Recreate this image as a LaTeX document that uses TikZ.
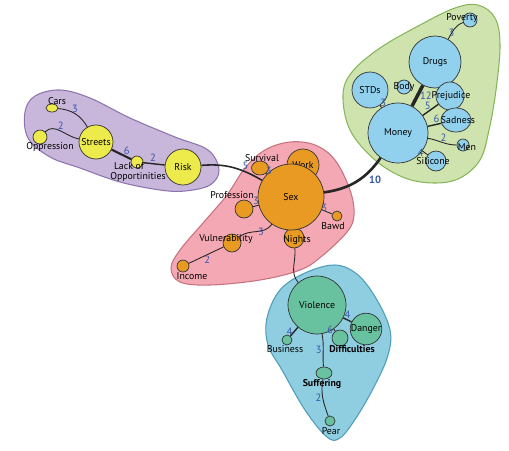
\documentclass[tikz,border=0pt]{standalone}
\usepackage{fontspec}
\setmainfont{PT Sans}
\usepackage{xcolor}
\usetikzlibrary{shapes.geometric}

\definecolor{lilac}{HTML}{C8B6DB}
\definecolor{lilacline}{HTML}{8D74AE}
\definecolor{rose}{HTML}{F4A8B4}
\definecolor{roseline}{HTML}{C7727F}
\definecolor{sage}{HTML}{CEE3AE}
\definecolor{sageline}{HTML}{86B65A}
\definecolor{pool}{HTML}{8FCDE0}
\definecolor{poolline}{HTML}{4F9DB9}
\definecolor{lemon}{HTML}{EDEA4C}
\definecolor{amber}{HTML}{E99A22}
\definecolor{sky}{HTML}{92D1EE}
\definecolor{mint}{HTML}{68C2A0}
\definecolor{numblue}{HTML}{3656A6}

\begin{document}
\begin{tikzpicture}[x=0.02cm,y=0.02cm]
  \tikzset{vtx/.style={circle, draw=black!80, line width=0.4pt, inner sep=0pt, font=\fontsize{5.6}{6.5}\selectfont}}
  \tikzset{rad/.style={minimum size=#1*0.04cm}}
  \tikzset{oval/.style 2 args={ellipse, minimum width=#1*0.02cm, minimum height=#2*0.02cm}}
  \tikzset{lbl/.style={inner sep=0pt, font=\fontsize{5.6}{6.5}\selectfont}}
  \tikzset{num/.style={inner sep=0.6pt, text=numblue, font=\fontsize{6}{7}\selectfont}}
  \tikzset{link/.style={draw=black!85, line width=0.5pt}}
  \tikzset{region/.style={line width=0.6pt}}

  \useasboundingbox (0,0) rectangle (509,-450);

  % regions
  \filldraw[region, fill=lilac, draw=lilacline] plot[smooth cycle, tension=0.6] coordinates {
    (25,-112) (35,-96) (60,-90) (90,-98) (130,-118) (175,-137) (208,-150) (219,-170)
    (210,-185) (185,-191) (160,-190) (120,-182) (80,-168) (50,-157) (28,-138)};
  \filldraw[region, fill=rose, draw=roseline] plot[smooth cycle, tension=0.6] coordinates {
    (245,-168) (265,-150) (290,-142) (315,-145) (335,-160) (350,-190) (354,-215) (347,-232)
    (322,-256) (300,-270) (260,-280) (210,-285) (180,-282) (171,-268) (180,-250) (203,-223) (227,-195)};
  \filldraw[region, fill=sage, draw=sageline] plot[smooth cycle, tension=0.6] coordinates {
    (343,-95) (352,-72) (380,-48) (420,-25) (455,-8) (478,-5) (495,-18) (500,-45)
    (496,-90) (489,-130) (480,-160) (460,-178) (435,-183) (405,-178) (375,-160) (350,-130)};
  \filldraw[region, fill=pool, draw=poolline] plot[smooth cycle, tension=0.6] coordinates {
    (267,-318) (280,-290) (305,-273) (335,-265) (358,-275) (377,-300) (390,-330) (388,-355)
    (375,-385) (356,-418) (340,-438) (327,-437) (305,-410) (282,-370) (268,-345)};

  % purple group
  \node[vtx, fill=lemon, oval={12}{8}] (Cars) at (52,-108) {};
  \node[vtx, fill=lemon, rad=7] (Oppression) at (40,-137) {};
  \node[vtx, fill=lemon, rad=17] (Streets) at (96,-142) {Streets};
  \node[vtx, fill=lemon, rad=6] (Lack) at (137,-162) {};
  \node[vtx, fill=lemon, rad=18] (Risk) at (183,-167) {Risk};
  \node[lbl] (CarsL) at (57,-101) {Cars};
  \node[lbl] (OppressionL) at (50,-147) {Oppression};
  \node[lbl] (LackL) at (129,-166) {Lack of};
  \node[lbl] (LackLL) at (138,-177) {Opportinities};

  % red group
  \node[vtx, fill=amber, rad=16] (Work) at (303,-165) {Work};
  \node[vtx, fill=amber, rad=10] (Nights) at (294,-238) {};
  \node[vtx, fill=amber, rad=33] (Sex) at (291,-197) {Sex};
  \node[vtx, fill=amber, oval={17}{14}] (Survival) at (260,-168) {};
  \node[vtx, fill=amber, rad=9] (Profession) at (244,-209) {};
  \node[vtx, fill=amber, rad=9] (Vulnerability) at (232,-243) {};
  \node[vtx, fill=amber, rad=6] (Income) at (183,-266) {};
  \node[vtx, fill=amber, rad=5] (Bawd) at (337,-216) {};
  \node[lbl] (SurvivalL) at (262,-158) {Survival};
  \node[lbl] (ProfessionL) at (232,-195) {Profession};
  \node[lbl] (VulnerabilityL) at (226,-239) {Vulnerability};
  \node[lbl] (IncomeL) at (192,-276) {Income};
  \node[lbl] (NightsL) at (297,-240) {Nights};
  \node[lbl] (BawdL) at (333,-226) {Bawd};

  % green group
  \node[vtx, fill=sky, rad=7] (Poverty) at (470,-20) {};
  \node[vtx, fill=sky, rad=26] (Drugs) at (435,-62) {Drugs};
  \node[vtx, fill=sky, rad=18] (STDs) at (370,-90) {STDs};
  \node[vtx, fill=sky, rad=7] (Body) at (404,-87) {};
  \node[vtx, fill=sky, rad=14] (Prejudice) at (450,-96) {};
  \node[vtx, fill=sky, oval={30}{24}] (Sadness) at (456,-120) {};
  \node[vtx, fill=sky, rad=30] (Money) at (398,-133) {Money};
  \node[vtx, fill=sky, rad=6] (Men) at (463,-145) {};
  \node[vtx, fill=sky, rad=10] (Silicone) at (436,-161) {};
  \node[lbl] (PovertyL) at (462,-18) {Poverty};
  \node[lbl] (BodyL) at (404,-87) {Body};
  \node[lbl] (PrejudiceL) at (451,-96) {Prejudice};
  \node[lbl] (SadnessL) at (458,-120) {Sadness};
  \node[lbl] (MenL) at (467,-147) {Men};
  \node[lbl] (SiliconeL) at (433,-161) {Silicone};

  % blue group
  \node[vtx, fill=mint, rad=29] (Violence) at (317,-305) {Violence};
  \node[vtx, fill=mint, rad=14] (Danger) at (366,-329) {Danger};
  \node[vtx, fill=mint, rad=5] (Business) at (287,-340) {};
  \node[vtx, fill=mint, rad=8] (Difficulties) at (340,-338) {};
  \node[vtx, fill=mint, oval={16}{12}] (Suffering) at (324,-373) {};
  \node[vtx, fill=mint, rad=5] (Pear) at (330,-421) {};
  \node[lbl] (BusinessL) at (285,-349) {Business};
  \node[lbl, font=\fontsize{5.6}{6.5}\selectfont\bfseries] (DifficultiesL) at (352,-349) {Difficulties};
  \node[lbl, font=\fontsize{5.6}{6.5}\selectfont\bfseries] (SufferingL) at (322,-384) {Suffering};
  \node[lbl] (PearL) at (331,-431) {Pear};

  % connectors
  \draw[link] (Cars) to[out=-5,in=120] node[num,pos=0.4,above right=-1pt]{3} (Streets);
  \draw[link] (Oppression) to[out=45,in=170] node[num,pos=0.5,above]{2} (Streets);
  \draw[link, line width=1.2pt] (Streets) -- node[num,pos=0.6,above right=-1pt]{6} (Lack);
  \draw[link, line width=0.8pt] (Lack) -- node[num,pos=0.45,above]{2} (Risk);
  \draw[link, line width=0.9pt] (Risk) to[out=5,in=150] node[num,pos=0.72,above]{5} (Sex);

  \draw[link] (Survival) -- node[num,pos=0.6,above right=-1pt]{3} (Sex);
  \draw[link] (Profession) -- node[num,pos=0.5,above]{3} (Sex);
  \draw[link] (Vulnerability) to[out=40,in=235] node[num,pos=0.5,right]{3} (Sex);
  \draw[link] (Income) to[out=25,in=205] node[num,pos=0.45,below right=-1pt]{2} (Vulnerability);
  \draw[link] (Bawd) -- node[num,pos=0.5,above left=-1pt]{3} (Sex);
  \draw[link, line width=1.5pt] (Sex) to[out=8,in=235] node[num,pos=0.7,below right]{\textbf{10}} (Money);
  \draw[link] (Nights) to[out=-85,in=130] (Violence);

  \draw[link] (Poverty) to[out=200,in=60] node[num,pos=0.5,below left=-1pt]{3} (Drugs);
  \draw[link, line width=2pt] (Drugs) -- node[num,pos=0.5,right]{12} (Money);
  \draw[link] (STDs) -- node[num,pos=0.5,above right=-1pt]{3} (Money);
  \draw[link, line width=0.8pt] (Prejudice) -- node[num,pos=0.5,above left=-1pt]{5} (Money);
  \draw[link, line width=0.8pt] (Sadness) -- node[num,pos=0.35,above]{6} (Money);
  \draw[link] (Men) to[out=180,in=-10] node[num,pos=0.45,above]{2} (Money);
  \draw[link] (Silicone) -- node[num,pos=0.5,left]{4} (Money);

  \draw[link, line width=0.8pt] (Violence) -- node[num,pos=0.5,above]{4} (Danger);
  \draw[link, line width=0.8pt] (Violence) -- node[num,pos=0.5,left]{4} (Business);
  \draw[link] (Violence) -- node[num,pos=0.5,left]{6} (Difficulties);
  \draw[link] (Violence) to[out=-80,in=95] node[num,pos=0.5,left]{3} (Suffering);
  \draw[link] (Suffering) to[out=-100,in=110] node[num,pos=0.5,left]{2} (Pear);
\end{tikzpicture}
\end{document}
